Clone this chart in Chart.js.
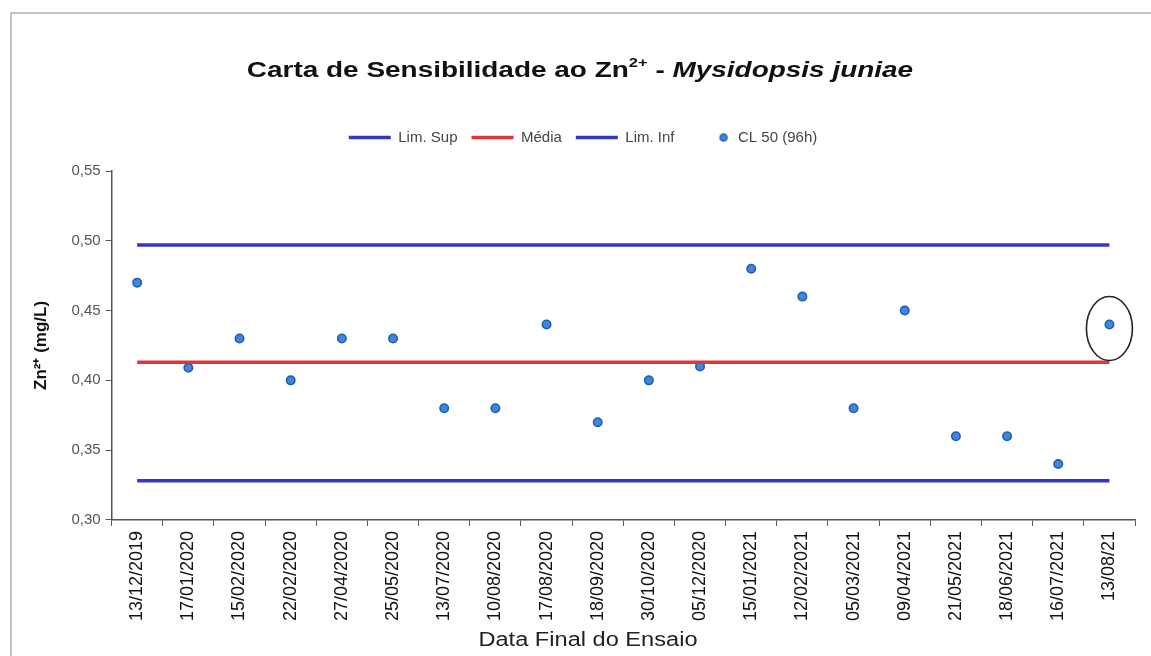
<!DOCTYPE html>
<html lang="pt">
<head>
<meta charset="utf-8">
<script src="https://cdn.jsdelivr.net/npm/chart.js@4.4.1/dist/chart.umd.min.js"></script>
<style>
  html, body { margin: 0; padding: 0; background: #fff; }
  #wrap { position: relative; width: 1151px; height: 656px; overflow: hidden; }
  #frame { position: absolute; left: 10px; top: 12px; width: 1200px; height: 700px;
           border-left: 2px solid #c4c4c4; border-top: 2px solid #c4c4c4; }
  #title { position: absolute; left: 0; top: 57px; width: 1160px; text-align: center;
           font: bold 22px "Liberation Sans", Arial, sans-serif; color: #111;
           transform: scaleX(1.27); transform-origin: 580px 0; }
  #title sup { font-size: 13px; position: relative; top: -2px; }
  #xtitle { position: absolute; left: 388px; top: 628px; width: 400px; text-align: center;
            font: 20px "Liberation Sans", Arial, sans-serif; color: #222;
            transform: scaleX(1.18); transform-origin: 200px 0; }
  canvas { position: absolute; left: 0; top: 0; }
</style>
</head>
<body>
<div id="wrap">
  <div id="frame"></div>
  <canvas id="myChart" width="1151" height="656"></canvas>
  <div id="title">Carta de Sensibilidade ao Zn<sup>2+</sup> - <i>Mysidopsis juniae</i></div>
  <div id="xtitle">Data Final do Ensaio</div>
</div>
<script>
// Datas finais dos ensaios (eixo x)
const dates = ['13/12/2019', '17/01/2020', '15/02/2020', '22/02/2020', '27/04/2020',
    '25/05/2020', '13/07/2020', '10/08/2020', '17/08/2020', '18/09/2020',
    '30/10/2020', '05/12/2020', '15/01/2021', '12/02/2021', '05/03/2021',
    '09/04/2021', '21/05/2021', '18/06/2021', '16/07/2021', '13/08/21'];

// CL50 (96h) em mg/L
const cl50 = [0.47, 0.409, 0.43, 0.40, 0.43, 0.43, 0.38, 0.38, 0.44, 0.37,
    0.40, 0.41, 0.48, 0.46, 0.38, 0.45, 0.36, 0.36, 0.34, 0.44];

// Limites da carta
const limSup = 0.497;
const media = 0.413;
const limInf = 0.328;

const yTicks = [0.30, 0.35, 0.40, 0.45, 0.50, 0.55];

const fill = (v) => dates.map(() => v);

// small canvas used as legend marker for the points
const dotIcon = document.createElement('canvas');
dotIcon.width = 42;
dotIcon.height = 12;
const dctx = dotIcon.getContext('2d');
dctx.beginPath();
dctx.arc(35, 6, 3.5, 0, Math.PI * 2);
dctx.fillStyle = '#3f86dc';
dctx.fill();
dctx.lineWidth = 1.5;
dctx.strokeStyle = '#1f5fb0';
dctx.stroke();

// extra room between legend and plot area
const legendGap = {
    id: 'legendGap',
    beforeInit(chart) {
        const fit = chart.legend.fit;
        chart.legend.fit = function () {
            fit.call(this);
            this.height += 16;
        };
    }
};

// ellipse drawn around the last result
const markLast = {
    id: 'markLast',
    afterDatasetsDraw(chart) {
        const meta = chart.getDatasetMeta(3);
        const pt = meta.data[meta.data.length - 1];
        const ctx = chart.ctx;
        ctx.save();
        ctx.beginPath();
        ctx.ellipse(pt.x, pt.y + 4, 23, 32, 0, 0, Math.PI * 2);
        ctx.lineWidth = 1.6;
        ctx.strokeStyle = '#222';
        ctx.stroke();
        ctx.restore();
    }
};

const ctx = document.getElementById('myChart').getContext('2d');
const myChart = new Chart(ctx, {
    type: 'line',
    data: {
        labels: dates,
        datasets: [
            { label: 'Lim. Sup', data: fill(limSup), borderColor: '#3636c4', borderWidth: 3.5,
              pointRadius: 0, pointStyle: 'line' },
            { label: 'Média', data: fill(media), borderColor: '#e0363a', borderWidth: 3.5,
              pointRadius: 0, pointStyle: 'line' },
            { label: 'Lim. Inf', data: fill(limInf), borderColor: '#3636c4', borderWidth: 3.5,
              pointRadius: 0, pointStyle: 'line' },
            { label: 'CL 50 (96h)', data: cl50, showLine: false, pointStyle: 'circle',
              pointRadius: 4.2, pointBorderWidth: 1.6,
              pointBackgroundColor: '#3f86dc', pointBorderColor: '#1f5fb0' }
        ]
    },
    options: {
        responsive: false,
        animation: false,
        layout: { padding: { top: 116, left: 31, right: 16, bottom: 30 } },
        plugins: {
            tooltip: { enabled: false },
            legend: {
                position: 'top',
                labels: {
                    usePointStyle: true,
                    pointStyleWidth: 42,
                    boxHeight: 12,
                    padding: 14,
                    color: '#444',
                    font: { family: '"Liberation Sans", Arial, sans-serif', size: 15 },
                    generateLabels(chart) {
                        return chart.data.datasets.map((ds, i) => ({
                            text: ds.label,
                            fillStyle: ds.borderColor || ds.pointBackgroundColor,
                            strokeStyle: ds.borderColor || ds.pointBorderColor,
                            lineWidth: 3.5,
                            pointStyle: i === 3 ? dotIcon : 'line',
                            fontColor: '#444',
                            datasetIndex: i
                        }));
                    }
                }
            }
        },
        scales: {
            x: {
                offset: true,
                grid: { offset: true, drawOnChartArea: false, drawTicks: true, tickLength: 6, color: '#555' },
                border: { color: '#555', width: 1.5 },
                ticks: {
                    maxRotation: 90, minRotation: 90, autoSkip: false, color: '#111', padding: 5,
                    font: { family: '"Liberation Sans", Arial, sans-serif', size: 18 }
                }
            },
            y: {
                min: 0.30,
                max: 0.55,
                afterBuildTicks(axis) { axis.ticks = yTicks.map(v => ({ value: v })); },
                grid: { drawOnChartArea: false, drawTicks: true, tickLength: 6, color: '#555' },
                border: { color: '#555', width: 1.5 },
                ticks: {
                    color: '#555', padding: 5,
                    font: { family: '"Liberation Sans", Arial, sans-serif', size: 15 },
                    callback: (v) => Number(v).toFixed(2).replace('.', ',')
                },
                title: {
                    display: true, text: 'Zn²⁺ (mg/L)', color: '#111',
                    font: { family: '"Liberation Sans", Arial, sans-serif', size: 17, weight: 'bold' },
                    padding: { top: 0, bottom: 15 }
                }
            }
        }
    },
    plugins: [legendGap, markLast]
});
</script>
</body>
</html>
